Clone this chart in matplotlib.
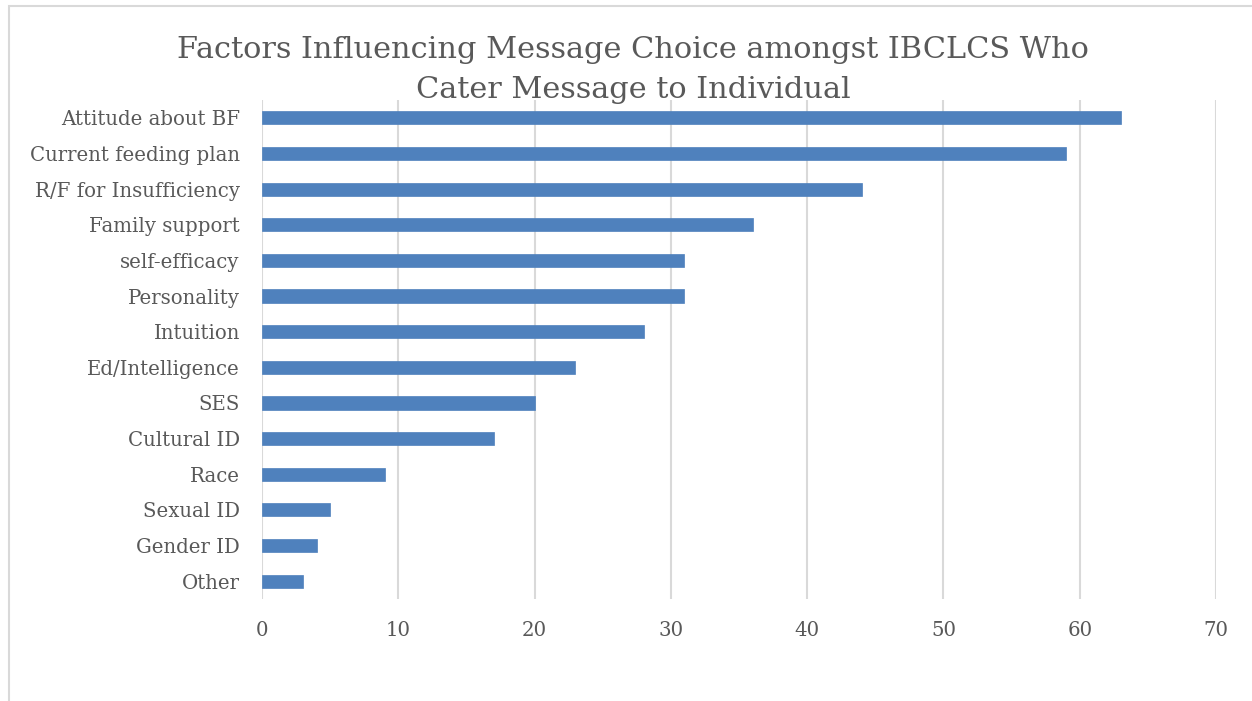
import matplotlib
matplotlib.use("Agg")
import matplotlib.pyplot as plt
from matplotlib.patches import Rectangle

categories = ["Attitude about BF", "Current feeding plan", "R/F for Insufficiency",
              "Family support", "self-efficacy", "Personality", "Intuition",
              "Ed/Intelligence", "SES", "Cultural ID", "Race", "Sexual ID",
              "Gender ID", "Other"]
values = [63, 59, 44, 36, 31, 31, 28, 23, 20, 17, 9, 5, 4, 3]
xticks = [0, 10, 20, 30, 40, 50, 60, 70]
title = "Factors Influencing Message Choice amongst IBCLCS Who\nCater Message to Individual"

W, H = 1252, 701
fig = plt.figure(figsize=(W / 100, H / 100), dpi=100)
plt.rcParams['font.family'] = ['DejaVu Serif', 'Liberation Serif']
txt = "#595959"

# chart frame (cropped)
fig.patches.append(Rectangle((8.5 / W, -0.1), 2.0, (H - 5.5) / H + 0.1,
                             transform=fig.transFigure, fill=False,
                             edgecolor="#D9D9D9", linewidth=1.5))

ax = fig.add_axes([262 / W, 1 - 599 / H, (1216 - 262) / W, (599 - 100) / H])
y = list(range(len(categories)))
ax.barh(y, values, height=0.37, color="#4F81BD", edgecolor="#4F81BD", linewidth=0.5, zorder=3)
ax.set_ylim(len(categories) - 0.5, -0.5)
ax.set_xlim(0, 70)
ax.set_xticks(xticks)
ax.set_yticks(y)
ax.set_yticklabels(categories)
ax.grid(axis="x", color="#D9D9D9", linewidth=1.5, zorder=0)
for s in ax.spines.values():
    s.set_visible(False)
ax.tick_params(axis="both", length=0, colors=txt, labelsize=14.2)
ax.tick_params(axis="x", pad=16)
ax.tick_params(axis="y", pad=16)

fig.text(633 / W, 1 - 70 / H, title, ha="center", va="center", fontsize=21.9,
         color=txt, linespacing=1.55)

fig.savefig("out.png", dpi=100)
